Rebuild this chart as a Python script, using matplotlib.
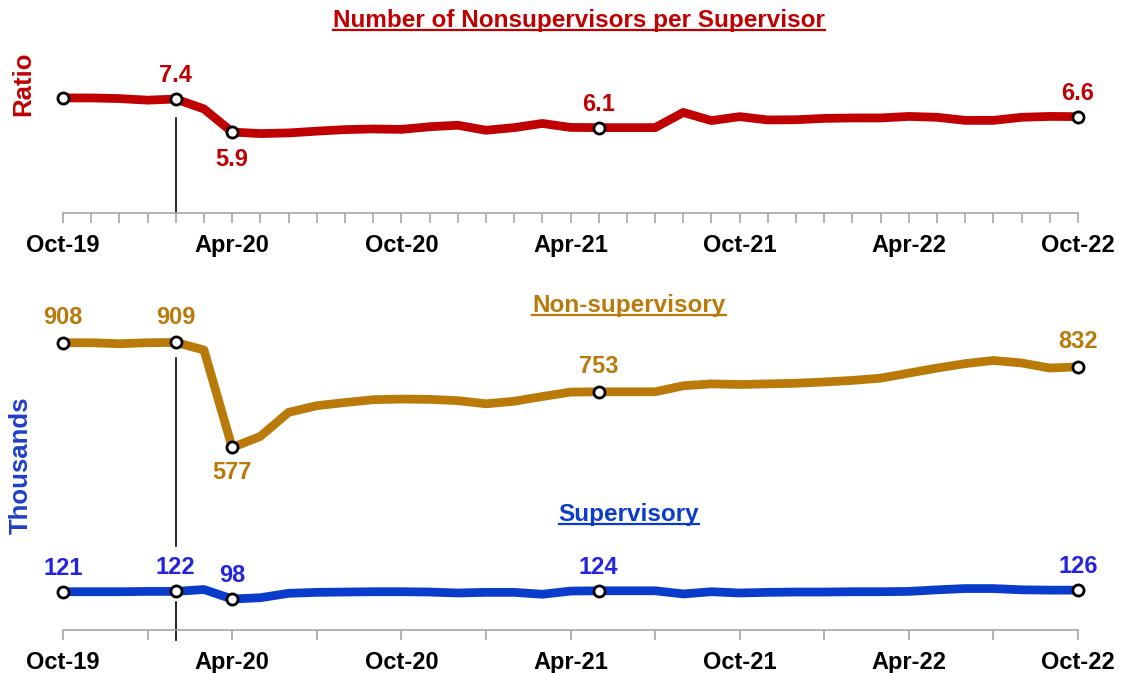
import numpy as np
import matplotlib
matplotlib.use('Agg')
import matplotlib.pyplot as plt

plt.rcParams['font.family'] = ['Liberation Sans', 'DejaVu Sans']
plt.rcParams['font.weight'] = 'bold'

# monthly data, Oct-19 .. Oct-22
ratio = [7.45, 7.45, 7.42, 7.35, 7.4, 6.95, 5.9, 5.83, 5.86, 5.94, 6.01, 6.04,
         6.02, 6.14, 6.21, 5.98, 6.10, 6.29, 6.11, 6.1, 6.1, 6.1, 6.79, 6.42,
         6.6, 6.45, 6.46, 6.52, 6.54, 6.54, 6.61, 6.57, 6.43, 6.43, 6.57, 6.61, 6.6]
nonsup = [908, 908, 905, 908, 909, 885, 577, 612, 688, 709, 719, 728,
          730, 729, 725, 715, 723, 738, 752, 753, 753, 753, 772, 778,
          776, 778, 780, 784, 789, 796, 812, 828, 842, 852, 844, 828, 832]
sup = [121, 121, 121, 122, 122, 128, 98, 102, 116, 119, 120, 121,
       121, 120, 117, 119, 119, 113, 123, 124, 124, 124, 114, 121,
       117, 119, 120, 120, 121, 121, 122, 127, 131, 131, 127, 126, 126]

tick_labels = ['Oct-19', 'Apr-20', 'Oct-20', 'Apr-21', 'Oct-21', 'Apr-22', 'Oct-22']
marked = [0, 4, 6, 19, 36]      # months with markers
event = 4                      # Feb-20

RED = '#C00000'
GOLD = '#B97A0A'
BLUE = '#0A3CCC'
BLUE_TXT = '#2424E0'
FS = 17

x = np.arange(len(ratio))

fig = plt.figure(figsize=(11.22, 6.73), dpi=100)
W, H = 1122, 673
ax1 = fig.add_axes([63 / W, 1 - 213 / H, 1015 / W, 153 / H])
ax2 = fig.add_axes([63 / W, 1 - 630 / H, 1015 / W, 330 / H])


def style(ax, minor_step):
    for s in ['left', 'right', 'top']:
        ax.spines[s].set_visible(False)
    ax.spines['bottom'].set_color('#A6A6A6')
    ax.spines['bottom'].set_linewidth(1.2)
    ax.set_yticks([])
    ax.set_xlim(0, len(ratio) - 1)
    ax.set_xticks(np.arange(0, len(ratio), 6))
    ax.set_xticklabels(tick_labels, fontsize=FS, fontweight='bold')
    ax.set_xticks(np.arange(0, len(ratio), minor_step), minor=True)
    ax.tick_params(axis='x', which='both', length=7, width=1.2, color='#A6A6A6', pad=8)


style(ax1, 1)
style(ax2, 3)

# top panel: ratio
ax1.set_ylim(2.22, 2.22 + 153 / 22)
ax1.plot(x, ratio, color=RED, lw=6.3, solid_joinstyle='round', clip_on=False, zorder=3)
ax1.plot(x[marked], np.array(ratio)[marked], 'o', ms=8, mfc='white', mec='black',
         mew=2, clip_on=False, zorder=4)
ax1.axvline(event, ymin=0, ymax=0.62, color='black', lw=1.2, zorder=2)
for i, above in [(4, True), (6, False), (19, True), (36, True)]:
    ax1.annotate(f'{ratio[i]:.1f}', (i, ratio[i]), xytext=(0, 17 if above else -20),
                 textcoords='offset points', ha='center', va='center',
                 fontsize=FS, fontweight='bold', color=RED)

# bottom panel: employment
ax2.set_ylim(0, 330 * 3.161)
ax2.plot(x, nonsup, color=GOLD, lw=6.3, clip_on=False, zorder=3)
ax2.plot(x, sup, color=BLUE, lw=6.3, clip_on=False, zorder=3)
ax2.plot(x[marked], np.array(nonsup)[marked], 'o', ms=8, mfc='white', mec='black',
         mew=2, clip_on=False, zorder=4)
ax2.plot(x[marked], np.array(sup)[marked], 'o', ms=8, mfc='white', mec='black',
         mew=2, clip_on=False, zorder=4)
ax2.axvline(event, ymin=0.255, ymax=0.824, color='black', lw=1.2, zorder=2)
ax2.axvline(event, ymin=-0.03, ymax=0.085, color='black', lw=1.2, zorder=2, clip_on=False)
for i in marked:
    below = i == 6
    ax2.annotate(f'{nonsup[i]}', (i, nonsup[i]), xytext=(0, -18 if below else 18),
                 textcoords='offset points', ha='center', va='center',
                 fontsize=FS, fontweight='bold', color=GOLD)
    ax2.annotate(f'{sup[i]}', (i, sup[i]), xytext=(0, 17),
                 textcoords='offset points', ha='center', va='center',
                 fontsize=FS, fontweight='bold', color=BLUE_TXT)


def underlined(xp, yp, s, color, size=17.5):
    t = fig.text(xp / W, 1 - yp / H, s, ha='center', va='center',
                 fontsize=size, fontweight='bold', color=color)
    fig.canvas.draw()
    bb = t.get_window_extent(fig.canvas.get_renderer())
    y = (bb.y0 + 2) / (H)
    fig.add_artist(plt.Line2D([bb.x0 / W, bb.x1 / W], [y, y], color=color, lw=1.6))
    return t


underlined(579, 20, 'Number of Nonsupervisors per Supervisor', RED)
underlined(629, 306, 'Non-supervisory', GOLD)
underlined(629, 514, 'Supervisory', BLUE)

fig.text(23 / W, 1 - 84 / H, 'Ratio', rotation=90, ha='center', va='center',
         fontsize=18.5, fontweight='bold', color=RED)
fig.text(21 / W, 1 - 465 / H, 'Thousands', rotation=90, ha='center', va='center',
         fontsize=18.5, fontweight='bold', color='#1F3FC8')

fig.savefig('out.png', dpi=100)
